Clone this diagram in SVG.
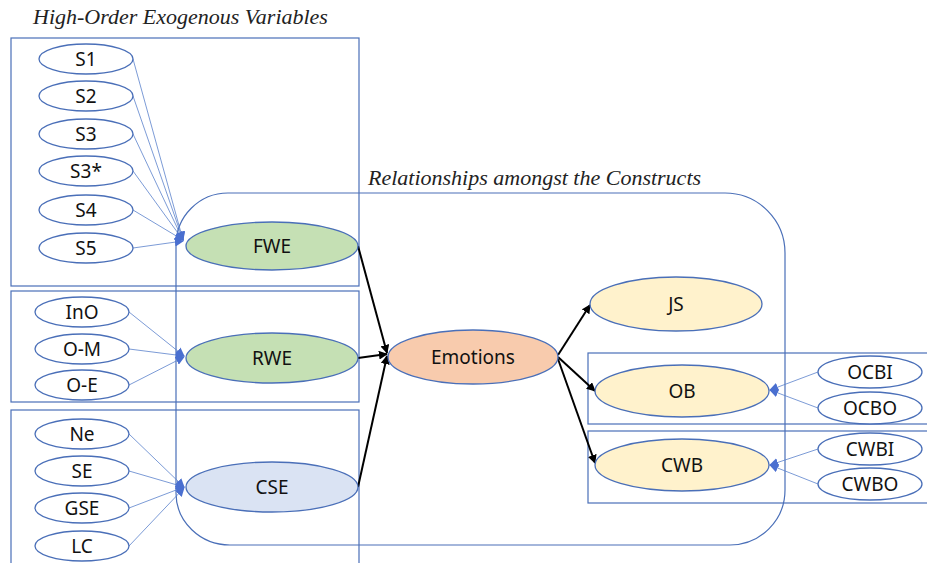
<svg xmlns="http://www.w3.org/2000/svg" width="927" height="563" viewBox="0 0 927 563">
<defs>
<style>
.box{fill:none;stroke:#4a6fb8;stroke-width:1.2}
.sm{fill:#fff;stroke:#4a6fb8;stroke-width:1.3}
.big{stroke:#4a6fb8;stroke-width:1.3}
.t{font-family:"Noto Sans","Liberation Sans",sans-serif;font-size:19px;fill:#111;text-anchor:middle;dominant-baseline:central}
.title{font-family:"Liberation Serif",serif;font-style:italic;font-size:22px;fill:#222}
.bl{stroke:#5b82cc;stroke-width:0.8;fill:none;marker-end:url(#ab)}
.bk{stroke:#000;stroke-width:2;fill:none;marker-end:url(#ak)}
</style>
<marker id="ab" viewBox="0 0 10 10" refX="9" refY="5" markerWidth="9" markerHeight="9" markerUnits="userSpaceOnUse" orient="auto"><path d="M0,0 L10,5 L0,10 Z" fill="#4a6fd0"/></marker>
<marker id="ak" viewBox="0 0 10 10" refX="9" refY="5" markerWidth="9" markerHeight="9" markerUnits="userSpaceOnUse" orient="auto"><path d="M0,0 L10,5 L0,10 Z" fill="#000"/></marker>
</defs>
<rect width="927" height="563" fill="#fff"/>
<text class="title" x="33" y="24">High-Order Exogenous Variables</text>
<text class="title" x="368" y="185">Relationships amongst the Constructs</text>
<g id="frames">
<rect class="box" x="11" y="38" width="348" height="248"/>
<rect class="box" x="11" y="291" width="348" height="111"/>
<rect class="box" x="11" y="410" width="348" height="160"/>
<rect class="box" x="588" y="353" width="345" height="71"/>
<rect class="box" x="588" y="431" width="345" height="72"/>
<path class="box" d="M228,193 H725 A60,60 0 0 1 785,253 V490 A55,55 0 0 1 730,545 H230 A54,52 0 0 1 176,493 V245 A52,52 0 0 1 228,193 Z"/>
</g>
<g id="connectors">
<path class="bl" d="M133,59 L183,240"/>
<path class="bl" d="M133,96 L183,240"/>
<path class="bl" d="M133,134 L183,240"/>
<path class="bl" d="M133,171 L183,240"/>
<path class="bl" d="M133,210 L183,240"/>
<path class="bl" d="M133,248 L183,241"/>
<path class="bl" d="M129,312 L184,356"/>
<path class="bl" d="M129,349 L184,356"/>
<path class="bl" d="M129,385 L184,357"/>
<path class="bl" d="M129,434 L184,487"/>
<path class="bl" d="M129,471 L184,487"/>
<path class="bl" d="M129,508 L184,487"/>
<path class="bl" d="M129,546 L184,488"/>
<path class="bl" d="M818,372 L770,390"/>
<path class="bl" d="M818,408 L770,390"/>
<path class="bl" d="M818,449 L770,465"/>
<path class="bl" d="M818,484 L770,465"/>
<path class="bk" d="M358,246 L387,353"/>
<path class="bk" d="M358,358 L387,354"/>
<path class="bk" d="M358,487 L387,356"/>
<path class="bk" d="M558,355 L590,305"/>
<path class="bk" d="M558,357 L595,391"/>
<path class="bk" d="M558,359 L595,463"/>
</g>
<g id="S1"><ellipse class="sm" cx="86" cy="59" rx="47" ry="15"/><text class="t" x="86" y="59">S1</text></g>
<g id="S2"><ellipse class="sm" cx="86" cy="96" rx="47" ry="15"/><text class="t" x="86" y="96">S2</text></g>
<g id="S3"><ellipse class="sm" cx="86" cy="134" rx="47" ry="15"/><text class="t" x="86" y="134">S3</text></g>
<g id="S3star"><ellipse class="sm" cx="86" cy="171" rx="47" ry="15"/><text class="t" x="86" y="171">S3*</text></g>
<g id="S4"><ellipse class="sm" cx="86" cy="210" rx="47" ry="15"/><text class="t" x="86" y="210">S4</text></g>
<g id="S5"><ellipse class="sm" cx="86" cy="248" rx="47" ry="15"/><text class="t" x="86" y="248">S5</text></g>
<g id="InO"><ellipse class="sm" cx="82" cy="312" rx="47" ry="15"/><text class="t" x="82" y="312">InO</text></g>
<g id="O-M"><ellipse class="sm" cx="82" cy="349" rx="47" ry="15"/><text class="t" x="82" y="349">O-M</text></g>
<g id="O-E"><ellipse class="sm" cx="82" cy="385" rx="47" ry="15"/><text class="t" x="82" y="385">O-E</text></g>
<g id="Ne"><ellipse class="sm" cx="82" cy="434" rx="47" ry="15"/><text class="t" x="82" y="434">Ne</text></g>
<g id="SE"><ellipse class="sm" cx="82" cy="471" rx="47" ry="15"/><text class="t" x="82" y="471">SE</text></g>
<g id="GSE"><ellipse class="sm" cx="82" cy="508" rx="47" ry="15"/><text class="t" x="82" y="508">GSE</text></g>
<g id="LC"><ellipse class="sm" cx="82" cy="546" rx="47" ry="15"/><text class="t" x="82" y="546">LC</text></g>
<g id="FWE"><ellipse class="big" cx="272" cy="246" rx="86" ry="24" fill="#c5e0b4"/><text class="t" x="272" y="246">FWE</text></g>
<g id="RWE"><ellipse class="big" cx="272" cy="358" rx="86" ry="25" fill="#c5e0b4"/><text class="t" x="272" y="358">RWE</text></g>
<g id="CSE"><ellipse class="big" cx="272" cy="487" rx="86" ry="25" fill="#dae3f3"/><text class="t" x="272" y="487">CSE</text></g>
<g id="Emotions"><ellipse class="big" cx="473" cy="357" rx="85" ry="27" fill="#f8cbad"/><text class="t" x="473" y="357">Emotions</text></g>
<g id="JS"><ellipse class="big" cx="676" cy="304" rx="86" ry="27" fill="#fff2cc"/><text class="t" x="676" y="304">JS</text></g>
<g id="OB"><ellipse class="big" cx="682" cy="391" rx="87" ry="26" fill="#fff2cc"/><text class="t" x="682" y="391">OB</text></g>
<g id="CWB"><ellipse class="big" cx="682" cy="465" rx="87" ry="26" fill="#fff2cc"/><text class="t" x="682" y="465">CWB</text></g>
<g id="OCBI"><ellipse class="sm" cx="870" cy="372" rx="52" ry="16"/><text class="t" x="870" y="372">OCBI</text></g>
<g id="OCBO"><ellipse class="sm" cx="870" cy="408" rx="52" ry="16"/><text class="t" x="870" y="408">OCBO</text></g>
<g id="CWBI"><ellipse class="sm" cx="870" cy="449" rx="52" ry="16"/><text class="t" x="870" y="449">CWBI</text></g>
<g id="CWBO"><ellipse class="sm" cx="870" cy="484" rx="52" ry="16"/><text class="t" x="870" y="484">CWBO</text></g>
</svg>
